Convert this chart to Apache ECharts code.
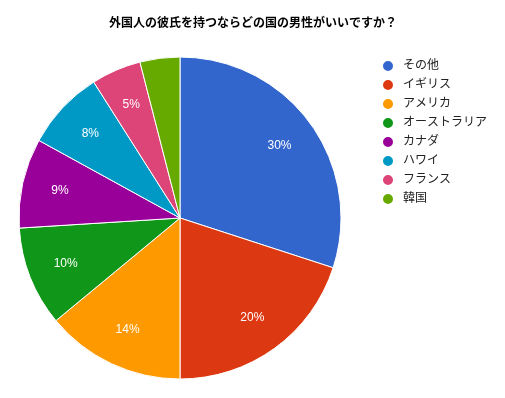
<!DOCTYPE html>
<html>
<head>
<meta charset="utf-8">
<script src="https://cdn.jsdelivr.net/npm/echarts@6/dist/echarts.min.js"></script>
<style>
  html, body { margin: 0; padding: 0; background: #fff; }
  #chart { width: 505px; height: 398px; }
</style>
</head>
<body>
<div id="chart"></div>
<script>
// 国名と割合 (%)
let names = ['その他', 'イギリス', 'アメリカ', 'オーストラリア', 'カナダ', 'ハワイ', 'フランス', '韓国'];
let values = [30, 20, 14, 10, 9, 8, 5, 4];
let colors = ['#3366cc', '#dc3912', '#ff9900', '#109618', '#990099', '#0099c6', '#dd4477', '#66aa00'];

let font = '"Liberation Sans", Arial, "Noto Sans CJK JP", sans-serif';

let pieData = names.map(function (n, i) {
    return { name: n, value: values[i], itemStyle: { color: colors[i] } };
});

let myChart = echarts.init(document.getElementById('chart'));
let option = {
    animation: false,
    title: {
        text: '外国人の彼氏を持つならどの国の男性がいいですか？',
        left: 248,
        textAlign: 'center',
        top: 13,
        textStyle: { fontFamily: font, fontSize: 12, fontWeight: 'bold', color: '#000' }
    },
    legend: {
        orient: 'vertical',
        left: 381,
        top: 59,
        padding: 0,
        icon: 'circle',
        itemWidth: 12,
        itemHeight: 12,
        itemGap: 5,
        data: names,
        textStyle: { fontFamily: font, fontSize: 12, color: '#222', padding: [0, 0, 0, 4] }
    },
    series: [
        {
            type: 'pie',
            center: [180, 218],
            radius: [0, 161],
            startAngle: 90,
            clockwise: true,
            data: pieData,
            label: { show: false },
            labelLine: { show: false },
            itemStyle: { borderColor: '#fff', borderWidth: 1 },
            emphasis: { disabled: true }
        },
        {
            // ラベル表示用の透明リング
            type: 'pie',
            center: [180, 218],
            radius: [79, 161],
            startAngle: 90,
            clockwise: true,
            silent: true,
            data: names.map(function (n, i) {
                return { name: n, value: values[i], itemStyle: { color: 'rgba(0,0,0,0)' } };
            }),
            label: {
                show: true,
                position: 'inside',
                color: '#fff',
                fontFamily: font,
                fontSize: 12,
                formatter: function (p) {
                    return p.value >= 5 ? p.value + '%' : '';
                }
            },
            labelLine: { show: false },
            itemStyle: { borderWidth: 0 },
            emphasis: { disabled: true }
        }
    ]
};
myChart.setOption(option);
</script>
</body>
</html>
